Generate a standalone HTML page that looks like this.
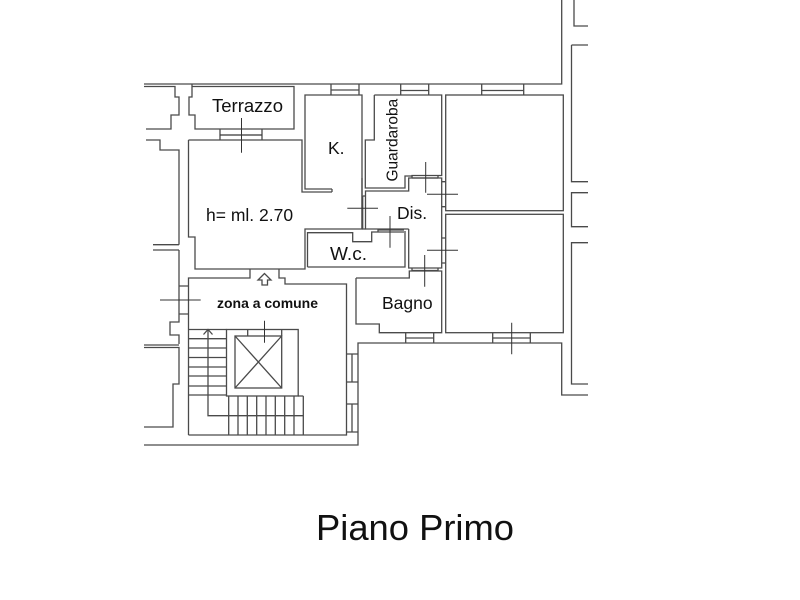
<!DOCTYPE html>
<html><head><meta charset="utf-8"><style>
html,body{margin:0;padding:0;background:#fff}
svg{display:block}
text{font-family:"Liberation Sans",sans-serif;fill:#111}
</style></head><body>
<svg width="800" height="600" viewBox="0 0 800 600" xmlns="http://www.w3.org/2000/svg">
<g fill="none" stroke="#4a4a4a" stroke-width="1.3">
<!-- outer shell -->
<path d="M144 84H561.7V0"/>
<path d="M144 86.5H175V97H179V115H171V129H146"/>
<path d="M192 84V97H189V115H195V129H294V86.5H192"/>
<path d="M146 140H160V150H179V244.7M179 250V286H188.5M179 286V314H188.5M179 314V322H170V335H179V344"/>
<path d="M153 244.7H179M153 250H179"/>
<path d="M144 345H179M144 347.5H179V384H173V427H144"/>
<path d="M144 445H358V343H561.7V395H588"/>
<path d="M574 0V26H588M571.5 45H588M571.5 45V181.7H588M588 192.7H571.5V226.7H588M588 242.7H571.5V384H588"/>
<!-- main room -->
<path d="M188.5 140H302V192H332M188.5 140V237H195V269H305V229H362V95H305V189H332"/>
<path d="M332 189V192"/>
<!-- terrace window -->
<path d="M220 129V140M262 129V140M220 135H262"/>
<!-- K window -->
<path d="M331 84V95M359 84V95M331 90H359"/>
<!-- WC -->
<path d="M307.5 267V232.7H352.7V241.7H371.7V232H378V230H404M378 232H404M405 231V267H307.5"/>
<path d="M362 178V229"/>
<!-- Guardaroba -->
<path d="M374.3 95V140H365.3V188H405V176H412V175.5H441.7V95H374.3"/>
<path d="M412 178H438M412 175.5V178M438 175.5V178"/>
<!-- Dis -->
<path d="M408.7 229H365.5V191H408.7V178H441.7V268H408.7V229"/>
<path d="M362.7 196V229H365.5M362.7 196H365.5"/>
<path d="M412 268V270.5H438V268"/>
<path d="M442 181.7H445.7M442 206.7H445.7M442 238H445.7M442 263H445.7"/>
<!-- windows -->
<path d="M400.7 84V95M428.7 84V95M400.7 90.5H428.7"/>
<path d="M481.7 84V95M523.7 84V95M481.7 90.5H523.7"/>
<!-- right rooms -->
<rect x="445.7" y="95" width="117.6" height="115.7"/>
<rect x="445.7" y="214.3" width="117.6" height="118.4"/>
<!-- Bagno -->
<path d="M356 278H409.3V271H441.7V332.7H379.3V324H356V278"/>
<path d="M405.7 332.7V343M433.7 332.7V343M405.7 338H433.7"/>
<path d="M492.7 332.7V343M530.3 332.7V343M492.7 338H530.3"/>
<!-- common area -->
<path d="M188.5 435V278H250V269M279 269V278H285V284H346.5V435H188.5"/>
<path d="M264.5 273.5L258 280H262V285H267.5V280H271Z"/>
<path d="M346.5 354H358M346.5 382H358M346.5 404H358M346.5 432H358M352 354V382M352 404V432"/>
<!-- lift -->
<rect x="226.5" y="329.5" width="71.7" height="66.5"/>
<rect x="235" y="336" width="46.7" height="52"/>
<path d="M235 336L281.7 388M281.7 336L235 388"/>
<path d="M247.7 329.5V336M281.7 329.5V336"/>
<!-- stairs -->
<path d="M188.5 329.5H226.5M188.5 338.7H226.5M188.5 348H226.5M188.5 357.5H226.5M188.5 367H226.5M188.5 376H226.5M188.5 386H226.5M188.5 395H226.5"/>
<path d="M208 330V415.7H303.3"/>
<path d="M203.5 334.5L208 329.5L212.5 334.5"/>
<path d="M228.7 396V435M238 396V435M247.3 396V435M256.7 396V435M266 396V435M275.3 396V435M284.7 396V435M294 396V435M303.3 396V435M298 396H303.3"/>
</g>
<g fill="none" stroke="#333" stroke-width="1">
<path d="M241.5 118V152.7M220 135H262"/>
<path d="M347.3 208.3H378M425.7 162V192.7M427 194.3H458M390 216V247.7M427 250.3H458M424.7 255V286.7M511.7 322.7V354.3M160 300H200.7M264.5 320.7V342.7"/>
</g>
<text x="212" y="112" font-size="18" textLength="71" lengthAdjust="spacingAndGlyphs">Terrazzo</text>
<text x="328" y="154" font-size="17.5">K.</text>
<text x="206" y="221" font-size="17.5">h= ml. 2.70</text>
<text x="330" y="260" font-size="18" textLength="37" lengthAdjust="spacingAndGlyphs">W.c.</text>
<text x="397" y="219" font-size="17.5">Dis.</text>
<text x="382" y="309" font-size="17.5">Bagno</text>
<text x="217" y="308" font-size="13.5" font-weight="bold" textLength="101" lengthAdjust="spacingAndGlyphs">zona a comune</text>
<text transform="translate(397.5 181.5) rotate(-90)" font-size="15.5">Guardaroba</text>
<text x="316" y="540" font-size="36" textLength="198" lengthAdjust="spacingAndGlyphs">Piano Primo</text>
</svg>
</body></html>
